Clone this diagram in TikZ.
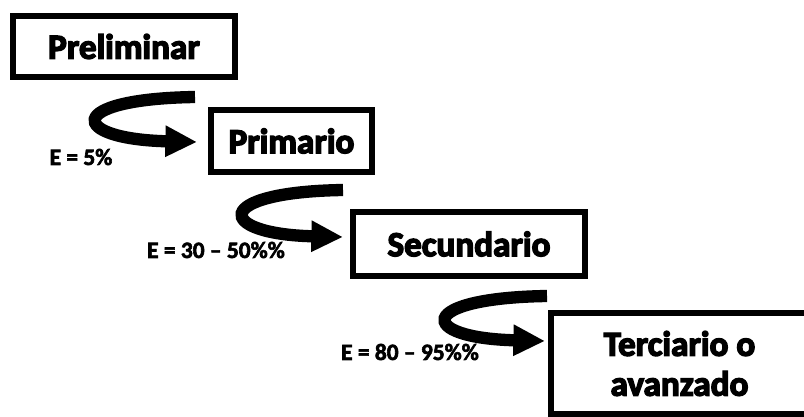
\documentclass[tikz,border=0pt]{standalone}
\usepackage{fontspec}
\setmainfont{Carlito}
\newfontfamily\heavyfont{Carlito}[RawFeature={embolden=4}]
\newfontfamily\labelfont{Carlito}[RawFeature={embolden=2.5}]
\usetikzlibrary{arrows.meta}

\begin{document}
\begin{tikzpicture}[x=0.03cm, y=-0.03cm,
    stage/.style={draw, line width=5pt, inner sep=0pt, align=center,
        font=\heavyfont\bfseries\fontsize{30}{34}\selectfont},
    flow/.style={line width=10.5pt, -{Triangle[length=27pt, width=25pt]}},
    eff/.style={font=\labelfont\bfseries\fontsize{20}{24}\selectfont}]
    \useasboundingbox (0,0) rectangle (804,417);
    % treatment stages
    \node[stage, minimum width=6.66cm, minimum height=1.83cm] (prel) at (124,46.5) {Preliminar};
    \node[stage, minimum width=4.83cm, minimum height=1.86cm] (prim) at (291.5,141) {Primario};
    \node[stage, minimum width=6.96cm, minimum height=1.92cm] (sec) at (469,244) {Secundario};
    \node[stage, minimum width=7.71cm, minimum height=3.03cm] (ter) at (679.5,363.5) {Terciario o\\avanzado};
    % efficiencies
    \node[eff] (e1) at (81,157) {E = 5\%};
    \node[eff] (e2) at (216,250) {E = 30 – 50\%\%};
    \node[eff] (e3) at (410,352) {E = 80 – 95\%\%};
    % curved arrows
    \coordinate (s1) at (195,97);  \coordinate (t1) at (197,142);
    \coordinate (s2) at (343,190); \coordinate (t2) at (343,237);
    \coordinate (s3) at (547,296); \coordinate (t3) at (545,341);
    \foreach \s/\t in {s1/t1, s2/t2, s3/t3}
        \draw[flow] (\s) .. controls +(-132,2) and +(-128,-3) .. (\t);
\end{tikzpicture}
\end{document}
